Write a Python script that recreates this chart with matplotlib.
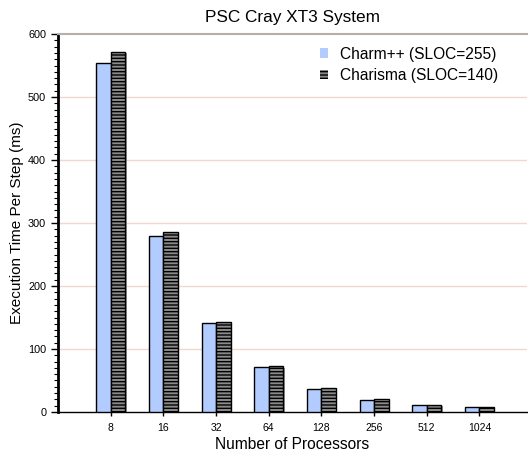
import matplotlib
matplotlib.use("Agg")
import matplotlib.pyplot as plt
import matplotlib.transforms as mtransforms
from matplotlib.patches import Patch
import numpy as np

plt.rcParams['font.family'] = ['Liberation Sans', 'DejaVu Sans']
plt.rcParams['hatch.linewidth'] = 1.0
plt.rcParams['hatch.color'] = 'black'

processors = ['8', '16', '32', '64', '128', '256', '512', '1024']
charm = [554, 280, 142, 71, 37, 19, 11, 7.5]
charisma = [572, 285, 142.5, 73, 38.5, 20, 11.5, 8]
labels = ['Charm++ (SLOC=255)', 'Charisma (SLOC=140)']

fig = plt.figure(figsize=(5.28, 4.57), dpi=100)
ax = fig.add_axes([0.1098, 0.0985, 0.888, 0.827])

x = np.arange(len(processors))
w = 0.275

shadow = mtransforms.offset_copy(ax.transData, fig=fig, x=1.5, y=-1.5, units='dots')
ax.bar(x - w / 2, charm, w, color='#999999', edgecolor='none', transform=shadow, zorder=2)
ax.bar(x + w / 2, charisma, w, color='#999999', edgecolor='none', transform=shadow, zorder=2)

ax.bar(x - w / 2, charm, w, color='#b3ccff', edgecolor='black', linewidth=1.0, zorder=3)
ax.bar(x + w / 2, charisma, w, color='#8a8a8a', edgecolor='black', linewidth=1.0,
       hatch='-----', zorder=3)

ax.set_xlim(-1.0, 7.9)
ax.set_ylim(0, 600)
ax.set_xticks(x)
ax.set_xticklabels(processors, fontsize=7.5)
ax.set_yticks(np.arange(0, 601, 100))
ax.set_yticks(np.arange(0, 601, 10), minor=True)
ax.tick_params(axis='y', which='major', labelsize=7.8, length=5, width=1, direction='out')
ax.tick_params(axis='y', which='minor', length=3, width=0.8, direction='out')
ax.tick_params(axis='x', which='major', length=6, width=1, direction='inout', pad=5)

for v in range(100, 600, 100):
    ax.axhline(v, color='#f0d9cc', linewidth=1.0, zorder=1)

ax.spines['right'].set_visible(False)
ax.spines['top'].set_color('#b8b0a8')
ax.spines['top'].set_linewidth(1.5)
ax.spines['left'].set_linewidth(2.0)
ax.spines['bottom'].set_linewidth(1.0)

ax.set_title('PSC Cray XT3 System', fontsize=12.4, pad=9)
ax.set_xlabel('Number of Processors', fontsize=11.2, labelpad=3)
ax.set_ylabel('Execution Time Per Step (ms)', fontsize=11)
ax.yaxis.set_label_coords(-0.073, 0.5)

handles = [Patch(facecolor='#b3ccff', edgecolor='none', linewidth=0),
           Patch(facecolor='#8a8a8a', edgecolor='black', linewidth=0, hatch='-----')]
leg = ax.legend(handles, labels, loc='upper left', bbox_to_anchor=(0.528, 1.004),
                frameon=False, fontsize=11.2, handlelength=0.55, handleheight=0.55,
                handletextpad=0.75, labelspacing=0.4)

fig.savefig('out.png', dpi=100)
